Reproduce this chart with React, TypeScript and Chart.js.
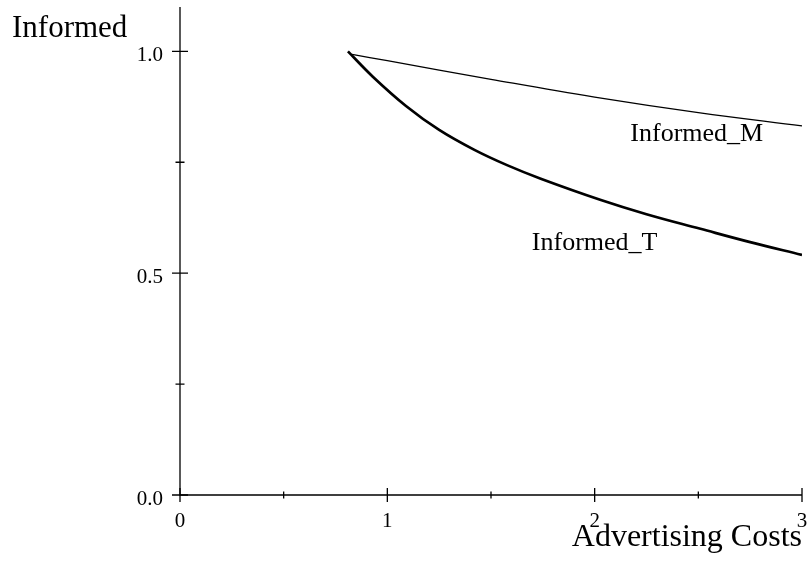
import React, { useEffect, useRef } from "react";
import { Chart, registerables } from "chart.js";

Chart.register(...registerables);

// Data
const costsT = [0.81, 0.93, 1.09, 1.25, 1.42, 1.58, 1.74, 2.03, 2.25, 2.51, 2.75, 3.0];
const informedT = [1.0, 0.943, 0.877, 0.823, 0.778, 0.743, 0.713, 0.665, 0.633, 0.6, 0.57, 0.541];
const costsM = [0.83, 1.0, 1.5, 2.0, 2.5, 3.0];
const informedM = [0.993, 0.979, 0.937, 0.897, 0.862, 0.832];

const xMajorTicks = [0, 1, 2, 3];
const xMinorTicks = [0.5, 1.5, 2.5];
const yMajorTicks = [0, 0.5, 1.0];
const yMajorLabels = ["0.0", "0.5", "1.0"];
const yMinorTicks = [0.25, 0.75];

const yAxisTitle = "Informed";
const xAxisTitle = "Advertising Costs";
const seriesNames = ["Informed_T", "Informed_M"];
const seriesLabelAnchors = [
  { x: 1.697, y: 0.553 },
  { x: 2.172, y: 0.797 },
];

const SERIF = "'Liberation Serif', 'Times New Roman', serif";

const axesPlugin = {
  id: "mapleAxes",
  afterDraw(chart: any) {
    const { ctx, chartArea } = chart;
    const xs = chart.scales.x;
    const ys = chart.scales.y;
    const x0 = xs.getPixelForValue(0);
    const y0 = ys.getPixelForValue(0);
    ctx.save();
    ctx.strokeStyle = "#000";
    ctx.fillStyle = "#000";
    ctx.lineWidth = 1.3;
    // axes lines
    ctx.beginPath();
    ctx.moveTo(x0, chartArea.top);
    ctx.lineTo(x0, y0);
    ctx.lineTo(xs.getPixelForValue(3), y0);
    ctx.stroke();
    // ticks
    ctx.beginPath();
    yMajorTicks.forEach((v) => {
      const py = ys.getPixelForValue(v);
      ctx.moveTo(x0 - 8, py);
      ctx.lineTo(x0 + 8, py);
    });
    yMinorTicks.forEach((v) => {
      const py = ys.getPixelForValue(v);
      ctx.moveTo(x0 - 4.5, py);
      ctx.lineTo(x0 + 4.5, py);
    });
    xMajorTicks.forEach((v) => {
      const px = xs.getPixelForValue(v);
      ctx.moveTo(px, y0 - 7);
      ctx.lineTo(px, y0 + 7);
    });
    xMinorTicks.forEach((v) => {
      const px = xs.getPixelForValue(v);
      ctx.moveTo(px, y0 - 3.5);
      ctx.lineTo(px, y0 + 3.5);
    });
    ctx.stroke();

    // tick labels
    ctx.font = `21px ${SERIF}`;
    ctx.textBaseline = "alphabetic";
    ctx.textAlign = "right";
    yMajorTicks.forEach((v, i) => {
      const py = ys.getPixelForValue(v);
      ctx.fillText(yMajorLabels[i], x0 - 17, py + 10);
    });
    ctx.textAlign = "center";
    xMajorTicks.forEach((v) => {
      const px = xs.getPixelForValue(v);
      ctx.fillText(String(v), px, y0 + 32);
    });

    // axis titles
    ctx.font = `31px ${SERIF}`;
    ctx.textAlign = "left";
    ctx.fillText(yAxisTitle, 12, 37);
    ctx.font = `32px ${SERIF}`;
    ctx.textAlign = "right";
    ctx.fillText(xAxisTitle, xs.getPixelForValue(3), y0 + 51);

    // series labels
    ctx.font = `26px ${SERIF}`;
    ctx.textAlign = "left";
    seriesNames.forEach((name, i) => {
      const a = seriesLabelAnchors[i];
      ctx.fillText(name, xs.getPixelForValue(a.x), ys.getPixelForValue(a.y));
    });
    ctx.restore();
  },
};

export default function App() {
  const ref = useRef<HTMLCanvasElement | null>(null);

  useEffect(() => {
    document.body.style.margin = "0";
    const canvas = ref.current;
    if (!canvas) return;
    const chart = new Chart(canvas, {
      type: "scatter",
      data: {
        datasets: [
          {
            label: seriesNames[0],
            data: costsT.map((x, i) => ({ x, y: informedT[i] })),
            showLine: true,
            borderColor: "#000",
            borderWidth: 2.7,
            pointRadius: 0,
            tension: 0.4,
            fill: false,
          },
          {
            label: seriesNames[1],
            data: costsM.map((x, i) => ({ x, y: informedM[i] })),
            showLine: true,
            borderColor: "#000",
            borderWidth: 1.3,
            pointRadius: 0,
            tension: 0.4,
            fill: false,
          },
        ],
      },
      options: {
        responsive: false,
        animation: false,
        events: [],
        layout: { padding: { left: 180, right: 7, top: 7, bottom: 66 } },
        scales: {
          x: { type: "linear", min: 0, max: 3, display: false },
          y: { type: "linear", min: 0, max: 1.1, display: false },
        },
        plugins: {
          legend: { display: false },
          tooltip: { enabled: false },
          title: { display: false },
        },
      },
      plugins: [axesPlugin],
    });
    return () => chart.destroy();
  }, []);

  return (
    <div style={{ width: 809, height: 561, background: "#fff" }}>
      <canvas ref={ref} width={809} height={561} style={{ display: "block" }} />
    </div>
  );
}
